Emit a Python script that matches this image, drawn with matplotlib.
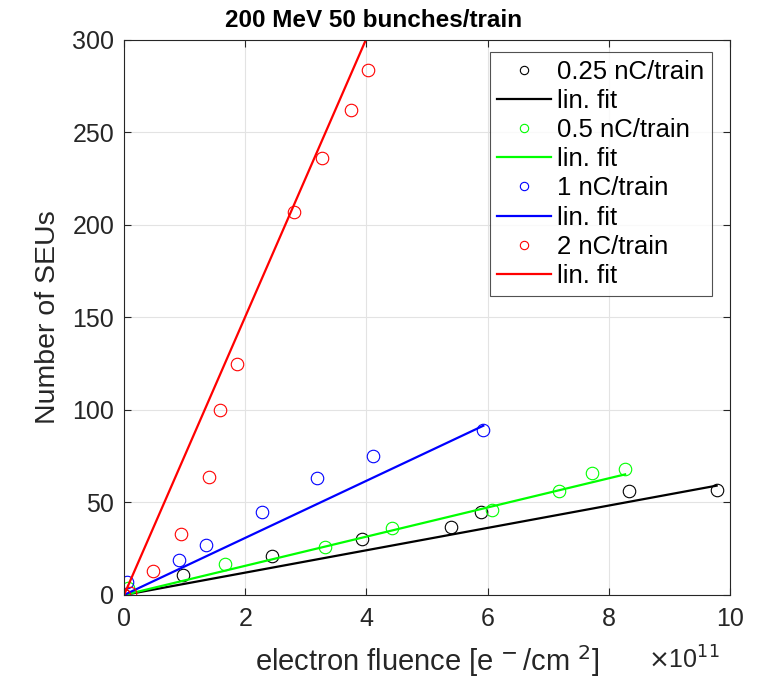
import matplotlib
matplotlib.use('Agg')
import matplotlib.pyplot as plt

plt.rcParams['font.family'] = ['Liberation Sans', 'DejaVu Sans']

# electron fluence in units of 1e11 e-/cm^2, number of SEUs
x_025 = [0.0, 0.97, 2.44, 3.93, 5.40, 5.89, 8.33, 9.79]
y_025 = [0, 11, 21, 30, 37, 45, 56, 57]
x_05 = [0.06, 1.67, 3.32, 4.42, 6.07, 7.18, 7.72, 8.27]
y_05 = [4, 17, 26, 36, 46, 56, 66, 68]
x_1 = [0.05, 0.91, 1.36, 2.28, 3.18, 4.11, 5.92]
y_1 = [7, 19, 27, 45, 63, 75, 89]
x_2 = [0.0, 0.10, 0.48, 0.94, 1.40, 1.58, 1.86, 2.81, 3.27, 3.75, 4.03]
y_2 = [0, 1, 13, 33, 64, 100, 125, 207, 236, 262, 284]

# linear fit end points
fit_x_025 = [0.0, 9.78]
fit_y_025 = [0.0, 59.1]
fit_x_05 = [0.0, 8.27]
fit_y_05 = [0.0, 65.2]
fit_x_1 = [0.0, 5.93]
fit_y_1 = [0.0, 91.5]
fit_x_2 = [0.0, 4.03]
fit_y_2 = [0.0, 303.0]

labels = ['0.25 nC/train', '0.5 nC/train', '1 nC/train', '2 nC/train']
colors = ['black', '#00ff00', '#0000ff', '#ff0000']

fig = plt.figure(figsize=(7.67, 6.81), dpi=100)
ax = fig.add_axes([0.1617, 0.1263, 0.79, 0.815])

series = [(x_025, y_025, fit_x_025, fit_y_025),
          (x_05, y_05, fit_x_05, fit_y_05),
          (x_1, y_1, fit_x_1, fit_y_1),
          (x_2, y_2, fit_x_2, fit_y_2)]

for (xs, ys, fx, fy), lab, c in zip(series, labels, colors):
    ax.plot(xs, ys, 'o', mfc='none', mec=c, ms=9, mew=0.8, label=lab)
    ax.plot(fx, fy, '-', color=c, lw=1.6, label='lin. fit')

ax.set_xlim(0, 10)
ax.set_ylim(0, 300)
ax.set_xticks(range(0, 11, 2))
ax.set_yticks(range(0, 301, 50))
ax.grid(True, color='#e3e3e3', lw=0.8)
ax.set_axisbelow(True)
ax.tick_params(direction='in', top=True, right=True, labelsize=18,
               colors='#262626', length=5, width=0.8)
ax.tick_params(axis='x', pad=9)
ax.tick_params(axis='y', pad=7)
for sp in ax.spines.values():
    sp.set_color('#262626')
    sp.set_linewidth(0.8)

ax.set_title('200 MeV 50 bunches/train', fontsize=17.5, fontweight='bold', pad=9,
             x=0.4125)
ax.set_ylabel('Number of SEUs', fontsize=20.5, color='#262626', labelpad=8)
ax.set_xlabel(r'electron fluence [e$^{\,-}$/cm $^{2}$]', fontsize=21, color='#262626',
              labelpad=8)
fig.text(0.845, 0.018, r'$\times$10$^{11}$', fontsize=18, color='#262626')

leg = ax.legend(loc='upper right', bbox_to_anchor=(0.97, 0.978), borderaxespad=0,
                fontsize=18.5, frameon=True, fancybox=False, handlelength=2.1,
                labelspacing=0.2, borderpad=0.3, handletextpad=0.22)
leg.get_frame().set_edgecolor('#262626')
leg.get_frame().set_linewidth(0.8)
for h in leg.legend_handles:
    h.set_markersize(6)

fig.savefig('out.png', dpi=100)
